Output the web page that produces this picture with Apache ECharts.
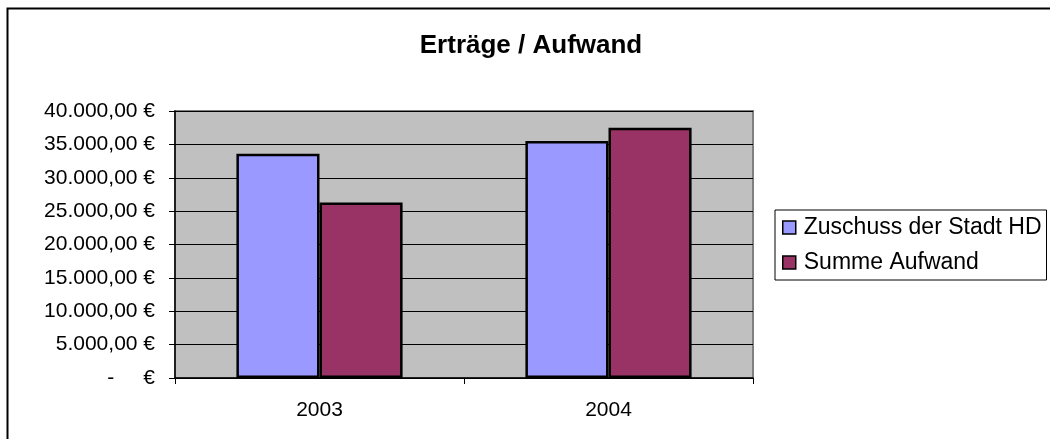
<!DOCTYPE html>
<html>
<head>
<meta charset="utf-8">
<script src="https://cdn.jsdelivr.net/npm/echarts@6/dist/echarts.min.js"></script>
<style>
html,body{margin:0;padding:0;background:#fff;}
#chart{width:1050px;height:439px;}
</style>
</head>
<body>
<div id="chart"></div>
<script>
var categories = ['2003', '2004'];
var seriesNames = ['Zuschuss der Stadt HD', 'Summe Aufwand'];
var zuschuss = [33600, 35500];
var aufwand = [26300, 37500];
var yMin = 0, yMax = 40000, yStep = 5000;

function fmtEuro(v) {
  if (v === 0) return '-     €';
  var s = v.toFixed(2).split('.');
  var intPart = s[0].replace(/\B(?=(\d{3})+(?!\d))/g, '.');
  return intPart + ',' + s[1] + ' €';
}

var chart = echarts.init(document.getElementById('chart'), null, {renderer: 'canvas'});
var FONT = 'Liberation Sans, Arial, sans-serif';
chart.setOption({
  animation: false,
  backgroundColor: '#fff',
  textStyle: {fontFamily: FONT},
  title: {
    text: 'Erträge / Aufwand',
    left: 526, top: 28, textAlign: 'center',
    textStyle: {fontFamily: FONT, fontWeight: 'bold', fontSize: 26, color: '#000'}
  },
  graphic: [{
    type: 'rect', silent: true, z: -1,
    shape: {x: 7.5, y: 8.5, width: 1100, height: 500},
    style: {fill: 'none', stroke: '#000', lineWidth: 2}
  }],
  legend: {
    orient: 'vertical',
    left: 775, top: 210,
    padding: [6, 5, 6, 7],
    itemGap: 12,
    itemWidth: 13, itemHeight: 13,
    borderColor: '#000', borderWidth: 1,
    backgroundColor: '#fff',
    textStyle: {fontFamily: FONT, fontSize: 23, color: '#000', padding: [0,0,0,3]},
    itemStyle: {borderColor: '#000', borderWidth: 1.5},
    data: seriesNames.map(function(n){return {name: n, icon: 'rect'};})
  },
  grid: {left: 175, right: 297, top: 111, bottom: 61, show: true,
    backgroundColor: '#C0C0C0', borderColor: '#808080', borderWidth: 2, containLabel: false},
  xAxis: {
    type: 'category', data: categories,
    axisLine: {show: true, lineStyle: {color: '#000', width: 1.5}},
    axisTick: {show: true, alignWithLabel: false, length: 6, lineStyle: {color: '#000'}},
    axisLabel: {fontFamily: FONT, fontSize: 21, color: '#000', margin: 22},
    splitLine: {show: false}
  },
  yAxis: {
    type: 'value', min: yMin, max: yMax, interval: yStep,
    axisLine: {show: true, lineStyle: {color: '#000', width: 1.5}},
    axisTick: {show: true, length: 6, lineStyle: {color: '#000'}},
    axisLabel: {fontFamily: FONT, fontSize: 21, color: '#000', margin: 20, formatter: fmtEuro},
    splitLine: {show: true, lineStyle: {color: '#000', width: 1}}
  },
  series: [{
    name: seriesNames[0], type: 'bar', data: zuschuss,
    barGap: '0%', barCategoryGap: '42.5%',
    itemStyle: {color: '#9999FF', borderColor: '#000', borderWidth: 2.5}
  }, {
    name: seriesNames[1], type: 'bar', data: aufwand,
    barGap: '0%', barCategoryGap: '42.5%',
    itemStyle: {color: '#993366', borderColor: '#000', borderWidth: 2.5}
  }]
});
</script>
</body>
</html>
